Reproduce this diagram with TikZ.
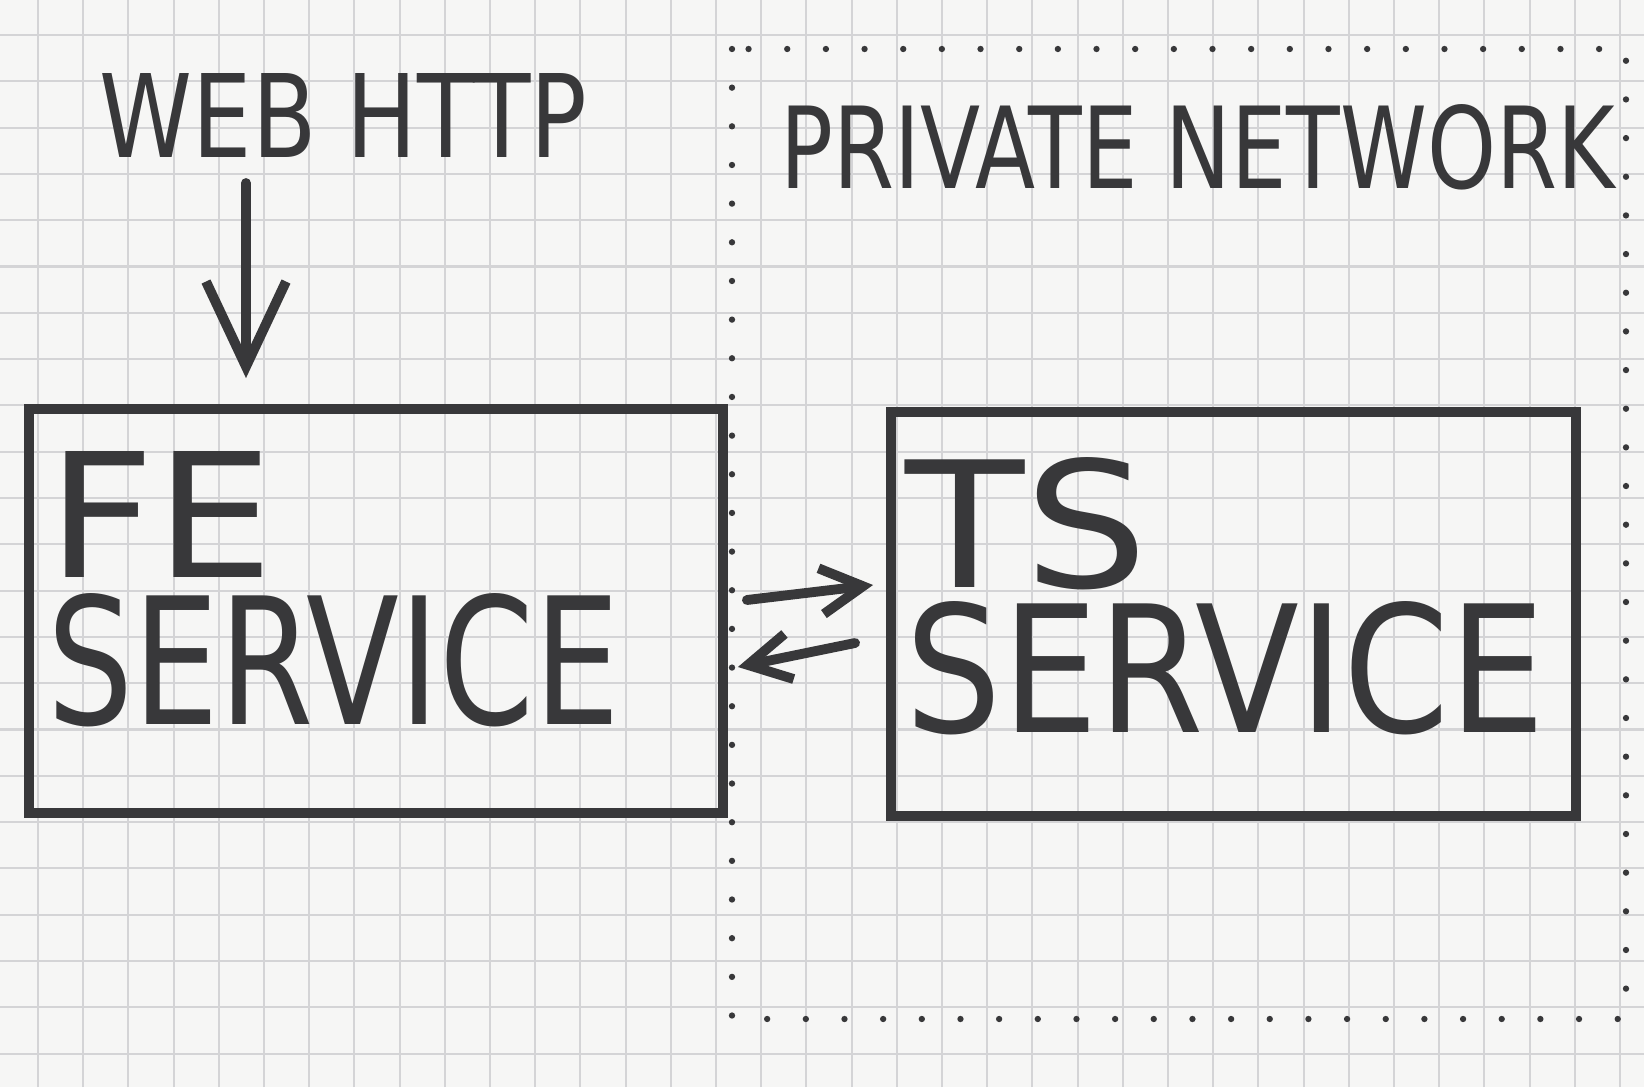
\documentclass[tikz,border=0pt]{standalone}
\usepackage{fontspec}
\usepackage{graphicx}
\usetikzlibrary{arrows.meta}
\newfontfamily\hand{DejaVu Sans}
\definecolor{paper}{RGB}{246,246,245}
\definecolor{gridline}{RGB}{212,212,214}
\definecolor{ink}{RGB}{56,56,58}
\newcommand{\handtext}[3]{\resizebox{#1}{#2}{\hand #3}}
\tikzset{box/.style = {draw = ink, line width = 2.8pt, inner sep = 0}}
\tikzset{label/.style = {inner sep = 0, text = ink}}
\tikzset{boxtext/.style = {label, align = left, anchor = north west}}
\tikzset{inarrow/.style = {draw = ink, line width = 2.8pt, line cap = round,
                           -{Straight Barb[length = 0.85cm, width = 0.8cm]}}}
\tikzset{callarrow/.style = {draw = ink, line width = 2.8pt, line cap = round,
                             -{Straight Barb[length = 0.42cm, width = 0.46cm]}}}
\tikzset{netdots/.style = {draw = ink, line width = 1.8pt, line cap = round,
                           dash pattern = on 0pt off 11pt}}

\begin{document}
\begin{tikzpicture}
    \useasboundingbox [fill = paper] (0, 0) rectangle (16.44, 10.87);
    % squared paper
    \foreach \k in {0,...,35} {
      \draw [gridline, line width = 0.6pt] (0.38 + \k*0.452, 0) -- (0.38 + \k*0.452, 10.87);
    }
    \foreach \k in {0,...,22} {
      \draw [gridline, line width = 0.6pt] (0, 10.52 - \k*0.463) -- (16.44, 10.52 - \k*0.463);
    }
    % private network
    \draw [netdots] (7.32, 10.38) rectangle (16.26, 0.68);
    \node [label] (net) at (11.98, 9.40) {\handtext{8.34cm}{0.84cm}{PRIVATE NETWORK}};
    % services
    \node [box, minimum width = 6.94cm, minimum height = 4.04cm] (fe) at (3.76, 4.76) {};
    \node [box, minimum width = 6.85cm, minimum height = 4.04cm] (fs) at (12.335, 4.73) {};
    \node [boxtext] (fename) at (0.47, 6.36)
      {\handtext{2.26cm}{1.26cm}{FE}\\[0.12cm]\handtext{5.72cm}{1.31cm}{SERVICE}};
    \node [boxtext] (fsname) at (9.05, 6.30)
      {\handtext{2.43cm}{1.30cm}{TS}\\[0.075cm]\handtext{6.40cm}{1.31cm}{SERVICE}};
    % incoming traffic
    \node [label] (web) at (3.435, 9.72) {\handtext{4.87cm}{0.84cm}{WEB HTTP}};
    \coordinate (in) at (2.46, 9.04);
    \draw [inarrow] (in) -- ([yshift = 0.26cm] in |- fe.north);
    % calls between the services
    \draw [callarrow] ([xshift = 0.19cm, yshift = 0.11cm] fe.east) -- ([xshift = -0.13cm, yshift = 0.29cm] fs.west);
    \draw [callarrow] ([xshift = -0.31cm, yshift = -0.29cm] fs.west) -- ([xshift = 0.10cm, yshift = -0.56cm] fe.east);
  \end{tikzpicture}
\end{document}
